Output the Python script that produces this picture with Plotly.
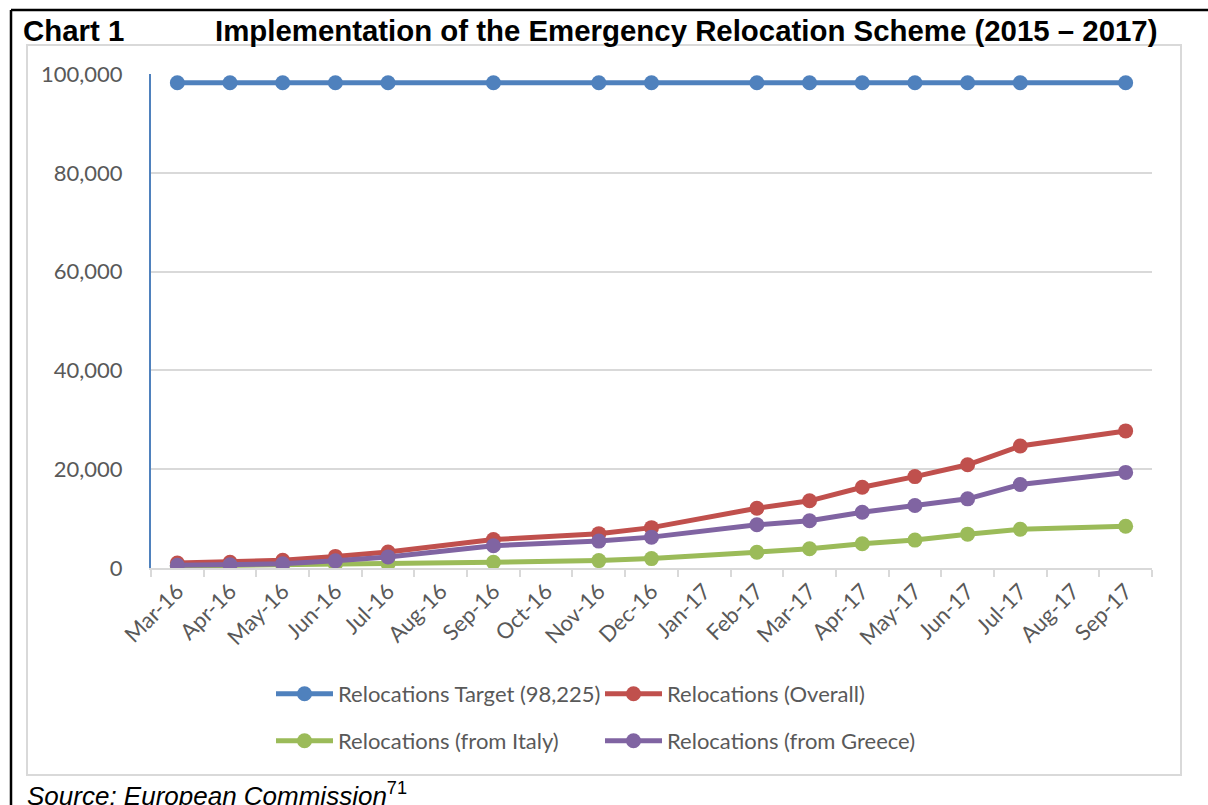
import plotly.graph_objects as go

months = ["Mar-16", "Apr-16", "May-16", "Jun-16", "Jul-16", "Aug-16", "Sep-16", "Oct-16",
          "Nov-16", "Dec-16", "Jan-17", "Feb-17", "Mar-17", "Apr-17", "May-17", "Jun-17",
          "Jul-17", "Aug-17", "Sep-17"]
target = [98225, 98225, 98225, 98225, 98225, None, 98225, None, 98225, 98225, None, 98225,
          98225, 98225, 98225, 98225, 98225, None, 98225]
overall = [1000, 1150, 1550, 2350, 3250, None, 5750, None, 6950, 8170, None, 12100,
           13600, 16350, 18500, 20900, 24700, None, 27750]
italy = [400, 500, 600, 750, 850, None, 1150, None, 1500, 1900, None, 3200,
         3900, 4900, 5650, 6850, 7850, None, 8450]
greece = [550, 650, 850, 1450, 2250, None, 4500, None, 5450, 6250, None, 8750,
          9550, 11300, 12650, 14000, 16900, None, 19350]
y_ticks = [0, 20000, 40000, 60000, 80000, 100000]

series = [
    ("Relocations Target (98,225)", target, "#4F81BD", "legend"),
    ("Relocations (Overall)", overall, "#C0504D", "legend"),
    ("Relocations (from Italy)", italy, "#9BBB59", "legend2"),
    ("Relocations (from Greece)", greece, "#8064A2", "legend2"),
]

W, H = 1208, 805
L, R, T, B = 151, 1152, 74, 568

fig = go.Figure()
for name, vals, col, lg in series:
    fig.add_trace(go.Scatter(
        x=months, y=vals, name=name, mode="lines+markers", connectgaps=True,
        line=dict(color=col, width=5), marker=dict(color=col, size=15),
        legend=lg,
    ))

def px_x(p):
    return (p - L) / (R - L)

def px_y(p):
    return (B - p) / (B - T)

font_c = "Lato, Open Sans, sans-serif"
grey = "#595959"

legend_common = dict(orientation="h", xanchor="left", yanchor="middle",
                     font=dict(family=font_c, size=22, color=grey),
                     entrywidth=257, entrywidthmode="pixels",
                     bgcolor="rgba(0,0,0,0)", itemwidth=57)

fig.update_layout(
    width=W, height=H,
    margin=dict(l=L, r=W - R, t=T, b=H - B),
    paper_bgcolor="white", plot_bgcolor="white",
    showlegend=True,
    legend=dict(x=px_x(271), y=px_y(694), **legend_common),
    legend2=dict(x=px_x(271), y=px_y(741), **legend_common),
    xaxis=dict(
        type="category", categoryorder="array", categoryarray=months,
        range=[-0.5, len(months) - 0.5],
        showgrid=False, showline=True, linecolor="#D9D9D9", linewidth=1.5,
        ticks="outside", ticklen=7, tickcolor="#D9D9D9", tickwidth=1.5,
        tickson="boundaries", tickangle=-45,
        tickfont=dict(family=font_c, size=22, color=grey),
    ),
    yaxis=dict(
        range=[0, 100000], tickvals=y_ticks, tickformat=",",
        showgrid=True, gridcolor="#D9D9D9", gridwidth=1.5,
        showline=True, linecolor="#4F81BD", linewidth=2,
        zeroline=False, ticks="", ticklabelstandoff=22,
        tickfont=dict(family=font_c, size=22, color=grey),
    ),
)

# chart-area light grey frame
fig.add_shape(type="rect", xref="paper", yref="paper",
              x0=px_x(27), x1=px_x(1181), y0=px_y(775), y1=px_y(45),
              line=dict(color="#D9D9D9", width=2), layer="below")
# black page borders
fig.add_shape(type="line", xref="paper", yref="paper",
              x0=px_x(11), x1=px_x(1210), y0=px_y(10), y1=px_y(10),
              line=dict(color="black", width=2.5))
fig.add_shape(type="line", xref="paper", yref="paper",
              x0=px_x(11), x1=px_x(11), y0=px_y(10), y1=px_y(810),
              line=dict(color="black", width=2.5))

title_font = dict(family="Liberation Sans, Arial, sans-serif", size=29.4, color="black")
fig.add_annotation(text="<b>Chart 1</b>", xref="paper", yref="paper",
                   x=px_x(21), y=px_y(30), xanchor="left", yanchor="middle",
                   showarrow=False, font=title_font)
fig.add_annotation(text="<b>Implementation of the Emergency Relocation Scheme (2015 – 2017)</b>",
                   xref="paper", yref="paper",
                   x=px_x(1159), y=px_y(30), xanchor="right", yanchor="middle",
                   showarrow=False, font=title_font)
fig.add_annotation(text="<i>Source: European Commission</i><sup>71</sup>",
                   xref="paper", yref="paper",
                   x=px_x(25), y=px_y(794), xanchor="left", yanchor="middle",
                   showarrow=False,
                   font=dict(family="Liberation Sans, Arial, sans-serif", size=26, color="black"))

fig.write_html("out.html")
